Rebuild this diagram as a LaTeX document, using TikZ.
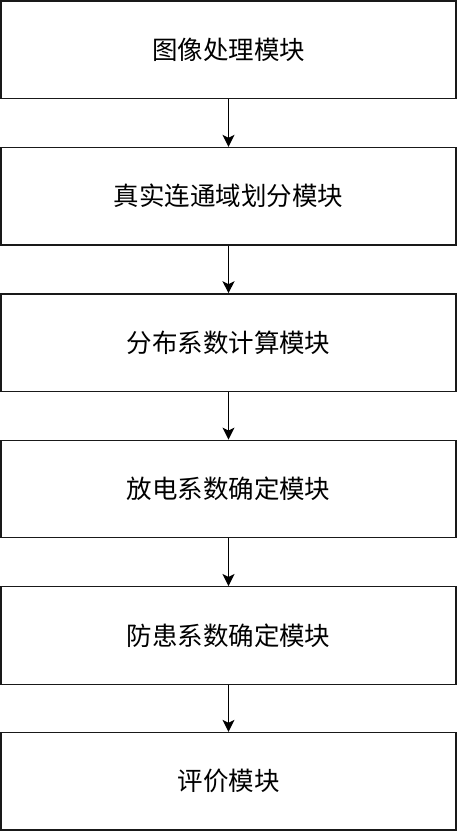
\documentclass[tikz,border=0pt]{standalone}
\usepackage{fontspec}
\newfontfamily\cjk{Noto Sans CJK SC}
\usetikzlibrary{arrows.meta}
\begin{document}
\begin{tikzpicture}[x=1pt,y=-1pt,
  modbox/.style={draw=black!90,line width=1.3pt,minimum width=455pt,minimum height=97.5pt,inner sep=0pt,font=\cjk\fontsize{25.5}{30}\selectfont},
  conn/.style={line width=1.3pt,-{Stealth[length=12pt,width=12pt,inset=3pt]}}]
\useasboundingbox (0,0) rectangle (457,831);
\node[modbox] (m1) at (228.5,49.75) {图像处理模块};
\node[modbox] (m2) at (228.5,196.2) {真实连通域划分模块};
\node[modbox] (m3) at (228.5,342.6) {分布系数计算模块};
\node[modbox] (m4) at (228.5,489.0) {放电系数确定模块};
\node[modbox] (m5) at (228.5,635.4) {防患系数确定模块};
\node[modbox] (m6) at (228.5,781.25) {评价模块};
\draw[conn] (m1) -- (m2);
\draw[conn] (m2) -- (m3);
\draw[conn] (m3) -- (m4);
\draw[conn] (m4) -- (m5);
\draw[conn] (m5) -- (m6);
\end{tikzpicture}
\end{document}
